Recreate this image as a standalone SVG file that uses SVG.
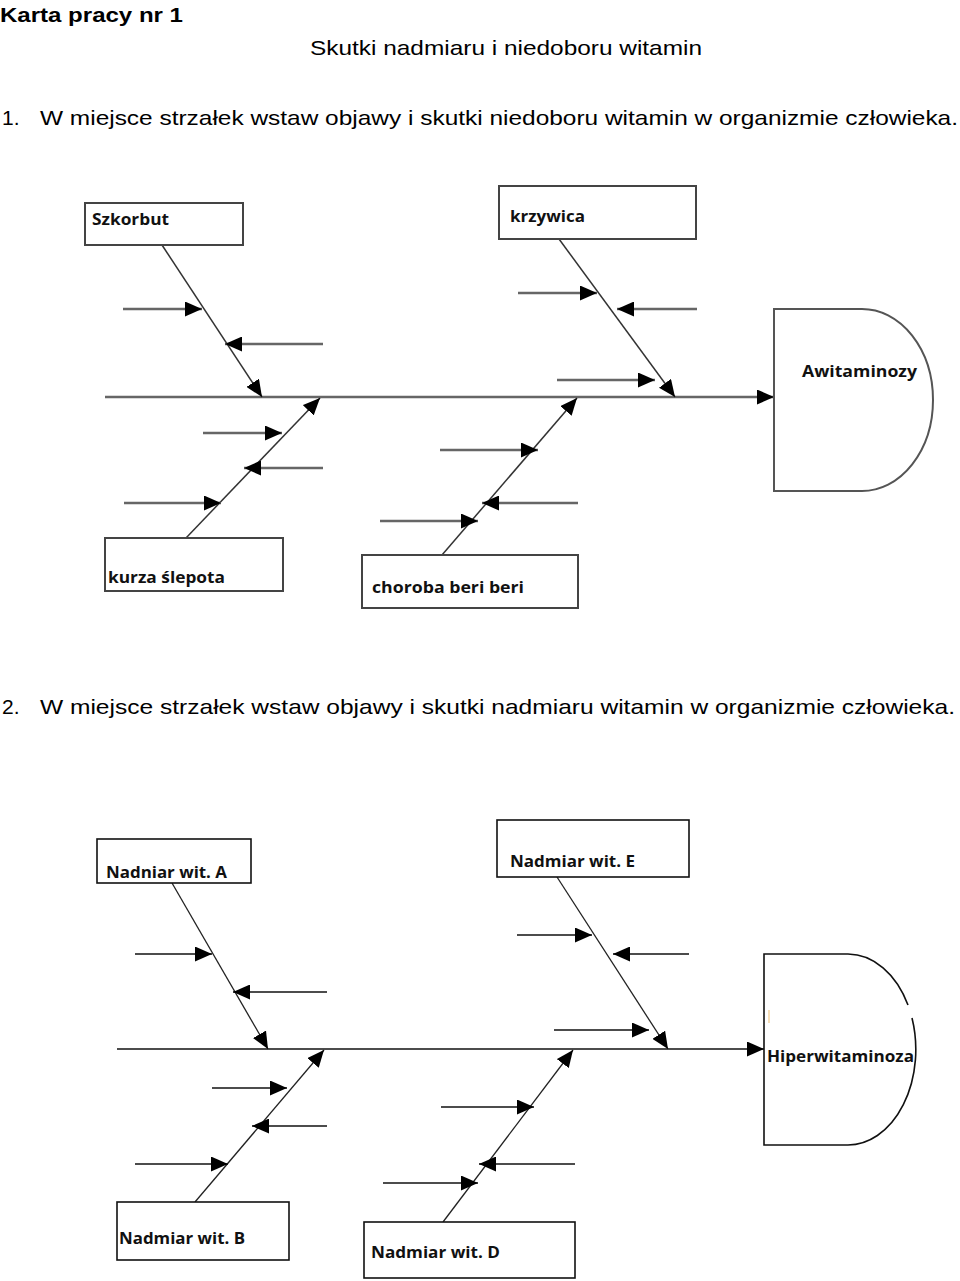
<svg xmlns="http://www.w3.org/2000/svg" width="960" height="1281" viewBox="0 0 960 1281">
<style>
.h{font-family:"Liberation Sans",Arial,sans-serif;fill:#000;font-size:21px}
.lbl{font-family:"Open Sans","Liberation Sans",sans-serif;font-weight:bold;font-size:16.5px;fill:#111}
.box1{fill:#fff;stroke:#444;stroke-width:2}
.box2{fill:#fff;stroke:#111;stroke-width:1.6}
.ar1{stroke:#666;stroke-width:2.6;fill:none;marker-end:url(#ah)}
.bone1{stroke:#333;stroke-width:1.5;fill:none;marker-end:url(#ah)}
.ar2{stroke:#111;stroke-width:1.6;fill:none;marker-end:url(#ah)}
.bone2{stroke:#222;stroke-width:1.3;fill:none;marker-end:url(#ah)}
</style>
<defs>
<marker id="ah" markerUnits="userSpaceOnUse" markerWidth="18" markerHeight="15" refX="17" refY="7.5" orient="auto">
<path d="M0,0 L17,7.5 L0,15 Z" fill="#000"/>
</marker>
</defs>
<rect width="960" height="1281" fill="#fff"/>

<g id="header">
<text class="h" x="0" y="22" font-weight="bold" textLength="183" lengthAdjust="spacingAndGlyphs">Karta pracy nr 1</text>
<text class="h" x="310" y="55" textLength="392" lengthAdjust="spacingAndGlyphs">Skutki nadmiaru i niedoboru witamin</text>
<text class="h" x="2" y="125">1.</text>
<text class="h" x="40" y="125" textLength="918" lengthAdjust="spacingAndGlyphs">W miejsce strzałek wstaw objawy i skutki niedoboru witamin w organizmie człowieka.</text>
<text class="h" x="2" y="714">2.</text>
<text class="h" x="40" y="714" textLength="915" lengthAdjust="spacingAndGlyphs">W miejsce strzałek wstaw objawy i skutki nadmiaru witamin w organizmie człowieka.</text>
</g>

<!-- Diagram 1 -->
<g id="connectors1">
<line class="ar1" x1="105" y1="397" x2="774" y2="397"/>
<line class="bone1" x1="162" y1="245" x2="262" y2="397"/>
<line class="ar1" x1="123" y1="309" x2="202" y2="309"/>
<line class="ar1" x1="323" y1="344" x2="225" y2="344"/>
<line class="bone1" x1="559" y1="239" x2="675" y2="397"/>
<line class="ar1" x1="518" y1="293" x2="597" y2="293"/>
<line class="ar1" x1="697" y1="309" x2="617" y2="309"/>
<line class="ar1" x1="557" y1="380" x2="655" y2="380"/>
<line class="bone1" x1="186" y1="538" x2="320" y2="398"/>
<line class="ar1" x1="203" y1="433" x2="282" y2="433"/>
<line class="ar1" x1="323" y1="468" x2="244" y2="468"/>
<line class="ar1" x1="124" y1="503" x2="221" y2="503"/>
<line class="bone1" x1="442" y1="555" x2="577" y2="398"/>
<line class="ar1" x1="440" y1="450" x2="538" y2="450"/>
<line class="ar1" x1="578" y1="503" x2="482" y2="503"/>
<line class="ar1" x1="380" y1="521" x2="478" y2="521"/>
</g>
<g id="szkorbut">
<rect class="box1" x="85" y="203" width="158" height="42"/>
<text class="lbl" x="92" y="225" textLength="77" lengthAdjust="spacingAndGlyphs">Szkorbut</text>
</g>
<g id="krzywica">
<rect class="box1" x="499" y="186" width="197" height="53"/>
<text class="lbl" x="510" y="222" textLength="75" lengthAdjust="spacingAndGlyphs">krzywica</text>
</g>
<g id="kurza">
<rect class="box1" x="105" y="538" width="178" height="53"/>
<text class="lbl" x="108" y="583" textLength="117" lengthAdjust="spacingAndGlyphs">kurza ślepota</text>
</g>
<g id="beriberi">
<rect class="box1" x="362" y="555" width="216" height="53"/>
<text class="lbl" x="372" y="593" textLength="152" lengthAdjust="spacingAndGlyphs">choroba beri beri</text>
</g>
<g id="awitaminozy">
<path d="M774,309 L862,309 A71,91 0 0 1 862,491 L774,491 Z" fill="#fff" stroke="#555" stroke-width="2"/>
<text class="lbl" x="802" y="377" textLength="115" lengthAdjust="spacingAndGlyphs">Awitaminozy</text>
</g>

<!-- Diagram 2 -->
<g id="connectors2">
<line class="ar2" x1="117" y1="1049" x2="764" y2="1049"/>
<line class="bone2" x1="172" y1="883" x2="268" y2="1049"/>
<line class="ar2" x1="135" y1="954" x2="212" y2="954"/>
<line class="ar2" x1="327" y1="992" x2="233" y2="992"/>
<line class="bone2" x1="557" y1="877" x2="668" y2="1049"/>
<line class="ar2" x1="517" y1="935" x2="592" y2="935"/>
<line class="ar2" x1="689" y1="954" x2="613" y2="954"/>
<line class="ar2" x1="554" y1="1030" x2="649" y2="1030"/>
<line class="bone2" x1="195" y1="1202" x2="324" y2="1050"/>
<line class="ar2" x1="212" y1="1088" x2="287" y2="1088"/>
<line class="ar2" x1="327" y1="1126" x2="252" y2="1126"/>
<line class="ar2" x1="135" y1="1164" x2="228" y2="1164"/>
<line class="bone2" x1="443" y1="1222" x2="573" y2="1050"/>
<line class="ar2" x1="441" y1="1107" x2="534" y2="1107"/>
<line class="ar2" x1="575" y1="1164" x2="479" y2="1164"/>
<line class="ar2" x1="383" y1="1183" x2="478" y2="1183"/>
</g>
<g id="witA">
<rect class="box2" x="97" y="839" width="154" height="44"/>
<text class="lbl" x="106" y="878" textLength="121" lengthAdjust="spacingAndGlyphs">Nadniar wit. A</text>
</g>
<g id="witE">
<rect class="box2" x="497" y="820" width="192" height="57"/>
<text class="lbl" x="510" y="867" textLength="125" lengthAdjust="spacingAndGlyphs">Nadmiar wit. E</text>
</g>
<g id="witB">
<rect class="box2" x="117" y="1202" width="172" height="58"/>
<text class="lbl" x="119" y="1244" textLength="126" lengthAdjust="spacingAndGlyphs">Nadmiar wit. B</text>
</g>
<g id="witD">
<rect class="box2" x="364" y="1222" width="211" height="56"/>
<text class="lbl" x="371" y="1258" textLength="129" lengthAdjust="spacingAndGlyphs">Nadmiar wit. D</text>
</g>
<g id="hiperwitaminoza">
<path d="M908,1005 A68,95.5 0 0 0 848,954 L764,954 L764,1145 L848,1145 A68,95.5 0 0 0 912,1018" fill="#fff" stroke="#111" stroke-width="1.6"/>
<line x1="769" y1="1010" x2="769" y2="1023" stroke="#f0c888" stroke-width="1.2"/>
<text class="lbl" x="767" y="1062" textLength="147" lengthAdjust="spacingAndGlyphs">Hiperwitaminoza</text>
</g>
</svg>
